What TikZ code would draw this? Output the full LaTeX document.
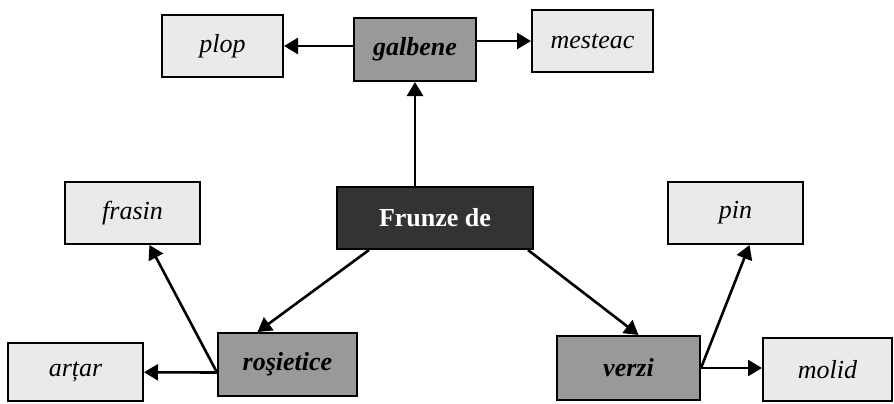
\documentclass[tikz,border=0pt]{standalone}
\usepackage{fontspec}
\setmainfont{Liberation Serif}
\usetikzlibrary{arrows.meta,calc}
\definecolor{leafGray}{RGB}{234,234,234}
\definecolor{midGray} {RGB}{153,153,153}
\definecolor{darkGray}{RGB}{51,51,51}

\begin{document}
\begin{tikzpicture}[x=0.5pt,y=-0.5pt,
          sz/.style 2 args={minimum width=#1*0.5pt,minimum height=#2*0.5pt},
          leaf/.style={draw=black,fill=leafGray,line width=1pt,inner sep=0pt,
                       font=\fontsize{13}{15}\selectfont\itshape},
          kind/.style={draw=black,fill=midGray,line width=1pt,inner sep=0pt,
                       font=\fontsize{13}{15}\selectfont\bfseries\itshape},
          root/.style={draw=black,fill=darkGray,line width=1pt,inner sep=0pt,
                       text=white,font=\fontsize{13}{15}\selectfont\bfseries},
          arr/.style={line width=1.3pt,-{Triangle[length=7pt,width=8pt]}}]
          \useasboundingbox (0,0) rectangle (894,403);
          % categorii
          \node[root,sz={196}{62}] (frunze) at (435,218) {Frunze de};
          \node[kind,sz={122}{63}] (galbene) at (415,49.5) {galbene};
          \node[kind,sz={139}{63}] (rosietice) at (287.5,364.5) {roşietice};
          \node[kind,sz={143}{64}] (verzi) at (628.5,368) {verzi};
          % copaci
          \node[leaf,sz={121}{62}] (plop) at (222.5,46) {plop};
          \node[leaf,sz={121}{62}] (mesteac) at (592.5,41) {mesteac};
          \node[leaf,sz={135}{62}] (frasin) at (132.5,213) {frasin};
          \node[leaf,sz={135}{58}] (artar) at (75.5,372) {arțar};
          \node[leaf,sz={135}{62}] (pin) at (735.5,213) {pin};
          \node[leaf,sz={129}{63}] (molid) at (827.5,369.5) {molid};
          % legaturi
          \draw[arr] (frunze.north -| galbene.south) -- (galbene.south);
          \draw[arr] ($(frunze.south west)+(33,0)$) -- ($(rosietice.north)+(-30,0)$);
          \draw[arr] ($(frunze.south east)+(-6,0)$) -- ($(verzi.north)+(10,0)$);
          \draw[arr] (galbene.west |- plop.east) -- (plop.east);
          \draw[arr] (galbene.east |- mesteac.west) -- (mesteac.west);
          \coordinate (rs) at ($(rosietice.west)+(0,8)$);
          \draw[arr] (rs) -- (frasin);
          \draw[arr] (rs) -- (artar);
          \draw[arr] (verzi.east) -- ($(pin.south)+(14,0)$);
          \draw[arr] (verzi.east) -- (verzi.east -| molid.west);
        \end{tikzpicture}
\end{document}
